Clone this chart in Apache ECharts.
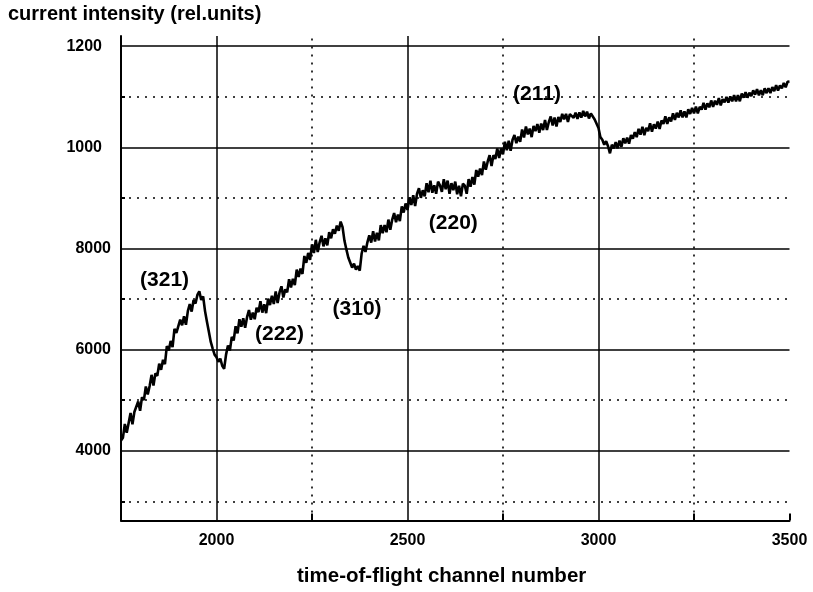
<!DOCTYPE html>
<html>
<head>
<meta charset="utf-8">
<script src="https://cdn.jsdelivr.net/npm/echarts@6/dist/echarts.min.js"></script>
<style>
html,body{margin:0;padding:0;background:#fff;}
#chart{width:813px;height:592px;}
</style>
</head>
<body>
<div id="chart"></div>
<script>
// ---- data ----
// channel sampling: every 5 channels from 1750 to 3500
const channelStart = 1750;
const channelStep = 5;
// intensity, one row per 50 channels
const intensity = [
4200,4255,4530,4355,4550,4745,4520,4765,4740,4975,
4790,5060,5000,5270,5110,5280,5500,5290,5530,5480,
5720,5600,5800,5710,6070,5980,6170,6050,6410,6330,
6310,6590,6480,6660,6490,6760,6900,6750,6980,6910,
7080,7150,6980,7050,6760,6550,6350,6150,6020,5900,
5850,5760,5820,5680,5620,5900,6080,5980,6250,6180,
6460,6320,6600,6450,6620,6430,6640,6780,6590,6730,
6600,6825,6740,6955,6730,6895,6720,7005,6880,7065,
6900,7150,6920,7130,7250,7030,7190,7130,7390,7230,
7400,7275,7580,7435,7600,7495,7850,7715,7910,7775,
8080,7910,8170,7930,8120,8250,8040,8200,8060,8320,
8200,8380,8290,8450,8350,8530,8420,8150,7980,7820,
7720,7620,7700,7580,7650,7560,7900,8050,7930,8120,
8260,8115,8340,8135,8310,8160,8460,8300,8460,8320,
8570,8370,8570,8700,8520,8670,8540,8830,8710,8890,
8760,9010,8860,9050,8840,9080,9190,9000,9150,9030,
9290,9110,9340,9100,9250,9080,9320,9245,9120,9370,
9170,9340,9080,9290,9150,9320,9070,9240,9030,9280,
9240,9080,9370,9220,9410,9260,9550,9420,9580,9450,
9720,9555,9720,9845,9630,9845,9770,9975,9790,9975,
9860,10110,9940,10130,9930,10150,10240,10080,10210,10110,
10350,10195,10410,10255,10370,10200,10420,10320,10460,10285,
10470,10340,10540,10340,10500,10610,10430,10590,10410,10600,
10500,10660,10550,10660,10500,10655,10690,10580,10685,10560,
10690,10585,10720,10610,10705,10570,10670,10680,10550,10550,
10380,10200,10150,10050,10120,10020,9880,10050,9980,10100,
9980,10130,10010,10180,10080,10190,10070,10240,10170,10300,
10200,10365,10250,10405,10240,10385,10320,10475,10310,10455,
10370,10510,10360,10530,10460,10610,10460,10590,10510,10670,
10540,10680,10590,10730,10590,10710,10590,10750,10660,10780,
10670,10805,10670,10800,10745,10880,10745,10870,10790,10925,
10800,10920,10840,10970,10830,10950,10890,10995,10885,11005,
10910,11030,10910,11030,10910,11060,10980,11090,10980,11080,
11010,11125,11040,11150,11025,11130,11030,11165,11070,11170,
11070,11190,11110,11230,11120,11220,11165,11270,11185,11295,
11300];

const xTickValues = [2000, 2500, 3000, 3500];
const xTickLabels = ['2000', '2500', '3000', '3500'];
const xMinorTicks = [2250, 2750, 3250, 3500];
const yTickValues = [4000, 6000, 8000, 10000, 12000];
const yTickLabels = ['4000', '6000', '8000', '1000', '1200'];
const ySolidGrid = [4000, 6000, 8000, 10000, 12000];
const yDottedGrid = [3000, 5000, 7000, 9000, 11000];
const xSolidGrid = [2000, 2500, 3000];
const xDottedGrid = [2250, 2750, 3250];
const annotations = [
  [1864, 7373, '(321)'],
  [2165, 6306, '(222)'],
  [2368, 6790, '(310)'],
  [2620, 8499, '(220)'],
  [2839, 11048, '(211)']
];
const titleY = 'current intensity (rel.units)';
const titleX = 'time-of-flight channel number';

// ---- chart ----
const FONT = '"Liberation Sans", Arial, Helvetica, sans-serif';
const chart = echarts.init(document.getElementById('chart'), null, {renderer: 'canvas'});
const lineData = intensity.map((v, i) => [channelStart + i * channelStep, v]);

const solidStyle = {color: '#000', width: 1.5, type: 'solid'};
const dotStyle = {color: '#000', width: 1.6, type: [2, 6]};

const gridMarks = []
  .concat(ySolidGrid.map(v => ({yAxis: v, lineStyle: solidStyle})))
  .concat(yDottedGrid.map(v => ({yAxis: v, lineStyle: dotStyle})))
  .concat(xSolidGrid.map(v => ({xAxis: v, lineStyle: solidStyle})))
  .concat(xDottedGrid.map(v => ({xAxis: v, lineStyle: dotStyle})));

const option = {
  animation: false,
  backgroundColor: '#fff',
  grid: {left: 121, right: 23.5, top: 36, bottom: 71.5, containLabel: false},
  xAxis: {
    type: 'value', min: 1750, max: 3500,
    splitLine: {show: false},
    axisLine: {show: true, lineStyle: {color: '#000', width: 2}},
    axisTick: {show: true, inside: true, length: 7, customValues: xMinorTicks, lineStyle: {color: '#000', width: 2}},
    axisLabel: {
      customValues: xTickValues, margin: 12,
      color: '#000', fontFamily: FONT, fontWeight: 'bold', fontSize: 16,
      formatter: v => xTickLabels[xTickValues.indexOf(v)]
    }
  },
  yAxis: {
    type: 'value', min: 2620, max: 12200,
    splitLine: {show: false},
    axisLine: {show: true, lineStyle: {color: '#000', width: 2}},
    axisTick: {show: true, inside: true, length: 4, customValues: yDottedGrid, lineStyle: {color: '#000', width: 2}},
    axisLabel: {
      customValues: yTickValues, margin: 10,
      color: '#000', fontFamily: FONT, fontWeight: 'bold', fontSize: 16,
      formatter: v => {
        const t = yTickLabels[yTickValues.indexOf(v)];
        return v >= 10000 ? '{s|' + t + '}' : t;
      },
      rich: {s: {fontFamily: FONT, fontWeight: 'bold', fontSize: 16, color: '#000', padding: [0, 9, 0, 0]}}
    }
  },
  series: [
    {
      type: 'line', data: [], z: 1, silent: true,
      markLine: {silent: true, symbol: ['none', 'none'], label: {show: false}, animation: false, data: gridMarks}
    },
    {
      type: 'line', data: lineData, z: 3, showSymbol: false, symbol: 'none',
      lineStyle: {color: '#000', width: 2.6}, clip: true
    },
    {
      type: 'scatter', z: 4, symbolSize: 1, silent: true,
      itemStyle: {color: '#000', opacity: 0},
      data: annotations,
      label: {
        show: true, position: 'inside', color: '#000', opacity: 1,
        textBorderWidth: 0, textShadowBlur: 0,
        fontFamily: FONT, fontWeight: 'bold', fontSize: 21,
        formatter: p => p.data[2]
      }
    }
  ],
  graphic: [
    {type: 'text', left: 8, top: 4, style: {text: titleY, fill: '#000', font: 'bold 20px ' + FONT}},
    {type: 'text', left: 297, top: 566, style: {text: titleX, fill: '#000', font: 'bold 20.5px ' + FONT}}
  ]
};
chart.setOption(option);
</script>
</body>
</html>
